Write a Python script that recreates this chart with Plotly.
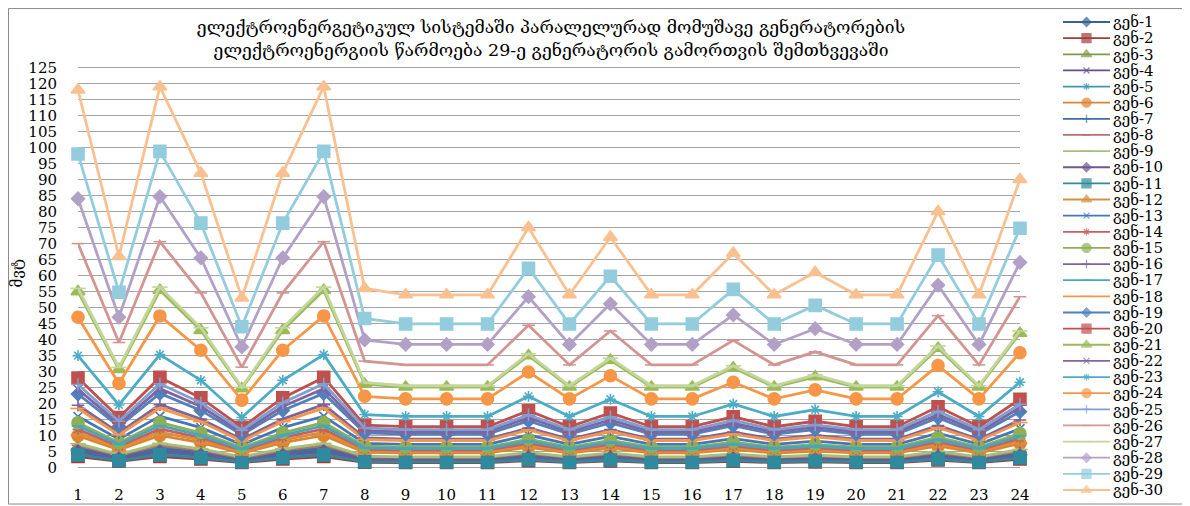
import plotly.graph_objects as go

hours = list(range(1, 25))
gen_names = ["გენ-%d" % i for i in range(1, 31)]
y_ticks = list(range(0, 130, 5))

gen01 = [5.5, 3.1, 5.5, 4.3, 2.5, 4.3, 5.5, 2.6, 2.5, 2.5, 2.5, 3.5, 2.5, 3.4, 2.5, 2.5, 3.1, 2.5, 2.8, 2.5, 2.5, 3.7, 2.5, 4.2]
gen02 = [3.5, 2.0, 3.5, 2.7, 1.6, 2.7, 3.5, 1.7, 1.6, 1.6, 1.6, 2.2, 1.6, 2.1, 1.6, 1.6, 2.0, 1.6, 1.8, 1.6, 1.6, 2.4, 1.6, 2.7]
gen03 = [6.5, 3.6, 6.6, 5.1, 2.9, 5.1, 6.6, 3.1, 3.0, 3.0, 3.0, 4.1, 3.0, 4.0, 3.0, 3.0, 3.7, 3.0, 3.4, 3.0, 3.0, 4.4, 3.0, 5.0]
gen04 = [4.5, 2.5, 4.5, 3.5, 2.0, 3.5, 4.5, 2.1, 2.1, 2.1, 2.1, 2.9, 2.1, 2.7, 2.1, 2.1, 2.6, 2.1, 2.3, 2.1, 2.1, 3.1, 2.1, 3.4]
gen05 = [4.2, 2.3, 4.2, 3.3, 1.9, 3.3, 4.2, 2.0, 1.9, 1.9, 1.9, 2.7, 1.9, 2.6, 1.9, 1.9, 2.4, 1.9, 2.2, 1.9, 1.9, 2.8, 1.9, 3.2]
gen06 = [10, 5.6, 10.1, 7.8, 4.5, 7.8, 10.1, 4.8, 4.6, 4.6, 4.6, 6.4, 4.6, 6.1, 4.6, 4.6, 5.7, 4.6, 5.2, 4.6, 4.6, 6.8, 4.6, 7.6]
gen07 = [6, 3.4, 6.0, 4.7, 2.7, 4.7, 6.0, 2.9, 2.7, 2.7, 2.7, 3.8, 2.7, 3.7, 2.7, 2.7, 3.4, 2.7, 3.1, 2.7, 2.7, 4.1, 2.7, 4.6]
gen08 = [7, 3.9, 7.1, 5.5, 3.1, 5.5, 7.1, 3.3, 3.2, 3.2, 3.2, 4.5, 3.2, 4.3, 3.2, 3.2, 4.0, 3.2, 3.6, 3.2, 3.2, 4.7, 3.2, 5.3]
gen09 = [7.5, 4.2, 7.6, 5.9, 3.4, 5.9, 7.6, 3.6, 3.4, 3.4, 3.4, 4.8, 3.4, 4.6, 3.4, 3.4, 4.3, 3.4, 3.9, 3.4, 3.4, 5.1, 3.4, 5.7]
gen10 = [5, 2.8, 5.0, 3.9, 2.2, 3.9, 5.0, 2.4, 2.3, 2.3, 2.3, 3.2, 2.3, 3.1, 2.3, 2.3, 2.8, 2.3, 2.6, 2.3, 2.3, 3.4, 2.3, 3.8]
gen11 = [4, 2.2, 4.0, 3.1, 1.8, 3.1, 4.0, 1.9, 1.8, 1.8, 1.8, 2.5, 1.8, 2.4, 1.8, 1.8, 2.3, 1.8, 2.1, 1.8, 1.8, 2.7, 1.8, 3.1]
gen12 = [11, 6.1, 11.1, 8.6, 4.9, 8.6, 11.1, 5.2, 5.0, 5.0, 5.0, 7.0, 5.0, 6.7, 5.0, 5.0, 6.2, 5.0, 5.7, 5.0, 5.0, 7.5, 5.0, 8.4]
gen13 = [16, 8.9, 16.1, 12.5, 7.2, 12.5, 16.1, 7.6, 7.3, 7.3, 7.3, 10.2, 7.3, 9.8, 7.3, 7.3, 9.1, 7.3, 8.3, 7.3, 7.3, 10.8, 7.3, 12.2]
gen14 = [12, 6.7, 12.1, 9.4, 5.4, 9.4, 12.1, 5.7, 5.5, 5.5, 5.5, 7.6, 5.5, 7.3, 5.5, 5.5, 6.8, 5.5, 6.2, 5.5, 5.5, 8.1, 5.5, 9.2]
gen15 = [14, 7.8, 14.1, 10.9, 6.3, 10.9, 14.1, 6.7, 6.4, 6.4, 6.4, 8.9, 6.4, 8.5, 6.4, 6.4, 8.0, 6.4, 7.2, 6.4, 6.4, 9.5, 6.4, 10.7]
gen16 = [19.5, 10.9, 19.7, 15.2, 8.8, 15.2, 19.7, 9.3, 8.9, 8.9, 8.9, 12.4, 8.9, 11.9, 8.9, 8.9, 11.1, 8.9, 10.1, 8.9, 8.9, 13.2, 8.9, 14.9]
gen17 = [13, 7.3, 13.1, 10.1, 5.8, 10.1, 13.1, 6.2, 6.0, 6.0, 6.0, 8.3, 6.0, 7.9, 6.0, 6.0, 7.4, 6.0, 6.7, 6.0, 6.0, 8.8, 6.0, 9.9]
gen18 = [18.5, 10.3, 18.6, 14.4, 8.3, 14.4, 18.6, 8.8, 8.5, 8.5, 8.5, 11.8, 8.5, 11.3, 8.5, 8.5, 10.5, 8.5, 9.6, 8.5, 8.5, 12.5, 8.5, 14.1]
gen19 = [23, 12.9, 23.2, 17.9, 10.3, 17.9, 23.2, 10.9, 10.5, 10.5, 10.5, 14.6, 10.5, 14.0, 10.5, 10.5, 13.1, 10.5, 11.9, 10.5, 10.5, 15.6, 10.5, 17.5]
gen20 = [28, 15.7, 28.2, 21.8, 12.6, 21.8, 28.2, 13.3, 12.8, 12.8, 12.8, 17.8, 12.8, 17.1, 12.8, 12.8, 15.9, 12.8, 14.5, 12.8, 12.8, 19.0, 12.8, 21.4]
gen21 = [55, 30.7, 55.4, 42.9, 24.7, 42.9, 55.4, 26.1, 25.2, 25.2, 25.2, 35.0, 25.2, 33.6, 25.2, 25.2, 31.2, 25.2, 28.4, 25.2, 25.2, 37.3, 25.2, 42.0]
gen22 = [24.5, 13.7, 24.7, 19.1, 11.0, 19.1, 24.7, 11.6, 11.2, 11.2, 11.2, 15.6, 11.2, 14.9, 11.2, 11.2, 13.9, 11.2, 12.7, 11.2, 11.2, 16.6, 11.2, 18.7]
gen23 = [35, 19.6, 35.3, 27.3, 15.7, 27.3, 35.3, 16.6, 16.0, 16.0, 16.0, 22.3, 16.0, 21.4, 16.0, 16.0, 19.9, 16.0, 18.1, 16.0, 16.0, 23.7, 16.0, 26.7]
gen24 = [47, 26.3, 47.4, 36.7, 21.1, 36.7, 47.4, 22.3, 21.5, 21.5, 21.5, 29.9, 21.5, 28.7, 21.5, 21.5, 26.7, 21.5, 24.3, 21.5, 21.5, 31.9, 21.5, 35.9]
gen25 = [26, 14.5, 26.2, 20.3, 11.7, 20.3, 26.2, 12.4, 11.9, 11.9, 11.9, 16.5, 11.9, 15.9, 11.9, 11.9, 14.8, 11.9, 13.4, 11.9, 11.9, 17.6, 11.9, 19.8]
gen26 = [70, 39.1, 70.6, 54.6, 31.4, 54.6, 70.6, 33.3, 32.1, 32.1, 32.1, 44.5, 32.1, 42.7, 32.1, 32.1, 39.8, 32.1, 36.2, 32.1, 32.1, 47.5, 32.1, 53.4]
gen27 = [56, 31.3, 56.4, 43.7, 25.1, 43.7, 56.4, 26.6, 25.6, 25.6, 25.6, 35.6, 25.6, 34.2, 25.6, 25.6, 31.8, 25.6, 29.0, 25.6, 25.6, 38.0, 25.6, 42.7]
gen28 = [84, 47.0, 84.7, 65.5, 37.7, 65.5, 84.7, 39.9, 38.5, 38.5, 38.5, 53.4, 38.5, 51.2, 38.5, 38.5, 47.7, 38.5, 43.4, 38.5, 38.5, 57.0, 38.5, 64.1]
gen29 = [98, 54.8, 98.8, 76.4, 44.0, 76.4, 98.8, 46.6, 44.9, 44.9, 44.9, 62.3, 44.9, 59.8, 44.9, 44.9, 55.7, 44.9, 50.7, 44.9, 44.9, 66.4, 44.9, 74.8]
gen30 = [118, 66, 119, 92, 53, 92, 119, 56, 54, 54, 54, 75, 54, 72, 54, 54, 67, 54, 61, 54, 54, 80, 54, 90]

all_series = [gen01, gen02, gen03, gen04, gen05, gen06, gen07, gen08, gen09, gen10,
              gen11, gen12, gen13, gen14, gen15, gen16, gen17, gen18, gen19, gen20,
              gen21, gen22, gen23, gen24, gen25, gen26, gen27, gen28, gen29, gen30]

colors = ["#35629A", "#A43B38", "#7F9C45", "#65508A", "#3C97B0", "#E0832F",
          "#3E6DAA", "#B96F6D", "#A5C078", "#6C5A92", "#2F8A9E", "#D7913E",
          "#4577B8", "#C9605E", "#8DAF55", "#7B62A0", "#47A6BF", "#F3964A",
          "#4F81BD", "#C0504D", "#9BBB59", "#8064A2", "#4BACC6", "#F79646",
          "#7F9FD0", "#D39592", "#C3D69B", "#B2A1C7", "#93CDDD", "#FAC090"]

symbol_cycle = ["diamond", "square", "triangle-up", "x-thin-open", "asterisk-open",
                "circle", "cross-thin-open", "line-ew-open", "line-ew-open"]
size_cycle = [10, 12, 12, 9, 9, 12, 9, 9, 11]

FONT = "DejaVu Serif, Liberation Serif, DejaVu Sans, serif"

fig = go.Figure()

for i, (vals, col) in enumerate(zip(all_series, colors)):
    sym = symbol_cycle[i % 9]
    sz = size_cycle[i % 9]
    fig.add_trace(go.Scatter(
        x=hours, y=vals, name=gen_names[i], mode="lines+markers",
        line=dict(color=col, width=2.8),
        marker=dict(symbol=sym, size=sz, color=col, line=dict(color=col, width=1.6)),
        cliponaxis=False, showlegend=False, xaxis="x", yaxis="y",
    ))

# custom legend drawn on its own small axes
for i, col in enumerate(colors):
    sym = symbol_cycle[i % 9]
    sz = size_cycle[i % 9] - 3
    fig.add_trace(go.Scatter(
        x=[0, 1, 2], y=[i + 1] * 3, mode="lines+markers",
        line=dict(color=col, width=1.8),
        marker=dict(symbol=sym, size=[0, sz, 0], color=col, line=dict(color=col, width=1.3)),
        cliponaxis=False, showlegend=False, hoverinfo="skip",
        xaxis="x2", yaxis="y2",
    ))

fig.update_layout(
    width=1182, height=498,
    margin=dict(l=70, r=2, t=2, b=10, autoexpand=False),
    paper_bgcolor="white", plot_bgcolor="white",
    font=dict(family=FONT, color="#000000", size=14),
    title=dict(
        text="ელექტროენერგეტიკულ სისტემაში პარალელურად მომუშავე გენერატორების<br>"
             "ელექტროენერგიის წარმოება 29-ე გენერატორის გამორთვის შემთხვევაში",
        x=0.4594, xref="container", xanchor="center",
        y=0.9498, yref="container", yanchor="middle",
        font=dict(family=FONT, size=17.5, color="#000000"),
    ),
    xaxis=dict(
        domain=[0, 0.8486], range=[1, 24], tickvals=hours,
        showgrid=False, zeroline=False, showline=False, ticks="",
        tickfont=dict(family=FONT, size=15), anchor="y", automargin=False,
    ),
    yaxis=dict(
        domain=[0.0253, 0.8916], range=[-5, 126.5], tickvals=y_ticks,
        showgrid=True, gridcolor="#A6A6A6", gridwidth=1,
        zeroline=False, showline=False, ticks="",
        tickfont=dict(family=FONT, size=15), ticklabelstandoff=20,
        title=dict(text="მვტ", font=dict(family=FONT, size=15), standoff=4),
        anchor="x", automargin=False,
    ),
    xaxis2=dict(
        domain=[0.8874, 0.9297], range=[0, 2], visible=False, anchor="y2",
    ),
    yaxis2=dict(
        domain=[0, 1], range=[30.372, 0.256], anchor="x2", side="right",
        tickvals=list(range(1, 31)), ticktext=gen_names,
        showgrid=False, zeroline=False, showline=False, ticks="",
        tickfont=dict(family=FONT, size=15), ticklabelstandoff=2, automargin=False,
    ),
    shapes=[dict(
        type="rect", xref="paper", yref="paper",
        x0=-0.0626, x1=1.0, y0=-0.0165, y1=1.003,
        line=dict(color="#8C8C8C", width=1), fillcolor="rgba(0,0,0,0)", layer="below",
    )],
)

fig.write_html("out.html")
